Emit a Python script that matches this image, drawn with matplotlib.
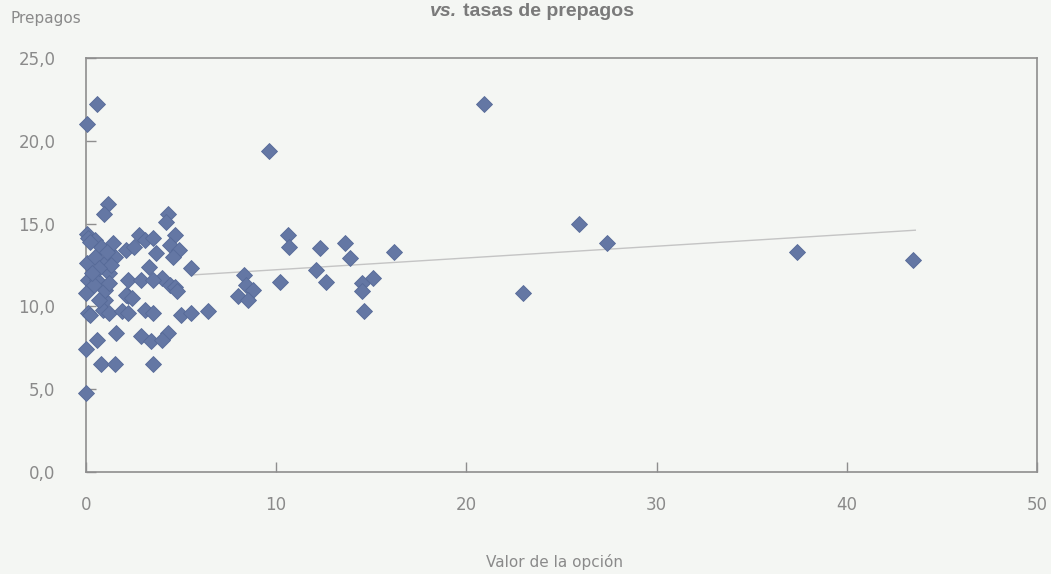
import matplotlib.pyplot as plt
from matplotlib.ticker import FuncFormatter

# option value (x) vs prepayment rate (y)
opcion = [
    0.05, 0.6, 1.15, 0.95, 4.3, 4.2,
    0.05, 0.1, 0.5, 0.8, 0.2,
    2.8, 3.1, 2.1, 2.5, 3.3,
    0.05, 1.0, 1.2, 0.1, 0.6, 2.2, 2.9,
    0.0, 1.0, 2.2, 0.5, 1.5,
    4.7, 3.5, 4.4, 4.9, 4.6, 3.7, 5.5, 4.0, 4.4, 4.7, 3.5,
    0.1, 0.9, 1.2, 1.9, 2.2, 3.1,
    0.6, 1.6, 2.9, 3.4, 0.0, 0.8, 1.5, 3.5, 0.0,
    3.5, 5.0, 5.5, 6.4, 4.3, 4.0,
    2.1, 2.4, 4.8,
    0.4, 0.7, 0.2, 1.0, 1.3, 1.4, 0.7, 1.2, 1.1, 0.3,
    8.3, 8.4, 8.8, 8.0, 8.5,
    9.6, 10.2, 10.6, 10.7, 12.3, 12.1, 12.6,
    13.6, 13.9, 14.5, 15.1, 14.5, 14.6, 16.2,
    20.9, 23.0, 25.9, 27.4, 37.4, 43.5,
]
prepagos = [
    21.0, 22.2, 16.2, 15.6, 15.6, 15.1,
    14.4, 14.1, 14.0, 13.6, 13.9,
    14.3, 14.0, 13.4, 13.6, 12.4,
    12.6, 12.6, 12.0, 11.6, 11.6, 11.6, 11.6,
    10.8, 10.4, 10.6, 13.0, 13.0,
    14.3, 14.1, 13.7, 13.4, 13.0, 13.2, 12.3, 11.7, 11.3, 11.2, 11.6,
    9.6, 9.8, 9.6, 9.7, 9.6, 9.8,
    8.0, 8.4, 8.2, 7.9, 7.4, 6.5, 6.5, 6.5, 4.8,
    9.6, 9.5, 9.6, 9.7, 8.4, 8.0,
    10.7, 10.5, 10.9,
    11.3, 10.4, 9.5, 11.0, 12.5, 13.8, 12.3, 11.4, 13.3, 12.0,
    11.9, 11.3, 11.0, 10.6, 10.4,
    19.4, 11.5, 14.3, 13.6, 13.5, 12.2, 11.5,
    13.8, 12.9, 11.4, 11.7, 10.9, 9.7, 13.3,
    22.2, 10.8, 15.0, 13.8, 13.3, 12.8,
]

# fitted trend line end points
trend_x = [5.6, 43.6]
trend_y = [11.9, 14.6]

x_ticks = [0, 10, 20, 30, 40, 50]
y_ticks = [0, 5, 10, 15, 20, 25]

bg = '#f4f6f3'
grey = '#8e8e8e'
plt.rcParams['font.family'] = ['Liberation Sans Narrow', 'DejaVu Sans']

fig = plt.figure(figsize=(10.51, 5.74), dpi=100, facecolor=bg)
ax = fig.add_axes([0.0818, 0.1777, 0.9049, 0.7213], facecolor=bg)

ax.plot(trend_x, trend_y, color='#c4c4c4', lw=1.0, zorder=1)
ax.plot(opcion, prepagos, linestyle='none', marker='D', markersize=8.5,
        color='#6477a4', markeredgecolor='#566a98', markeredgewidth=0.6,
        zorder=3, clip_on=False)

ax.set_xlim(0, 50)
ax.set_ylim(0, 25)
ax.set_xticks(x_ticks)
ax.set_yticks(y_ticks)
ax.yaxis.set_major_formatter(FuncFormatter(lambda v, p: f'{v:.1f}'.replace('.', ',')))

for s in ax.spines.values():
    s.set_color(grey)
    s.set_linewidth(1.2)
ax.tick_params(axis='both', direction='in', length=7, width=1.0, color=grey,
               labelcolor='#8a8a8a', labelsize=12)
ax.tick_params(axis='x', pad=17)
ax.tick_params(axis='y', pad=22)

fig.text(10 / 1051, 1 - 18 / 574, 'Prepagos', ha='left', va='center',
         color='#8a8a8a', fontsize=11)
fig.text(555 / 1051, 1 - 562 / 574, 'Valor de la opción', ha='center', va='center',
         color='#8a8a8a', fontsize=11)

# title (partly cut off in the source, kept fully visible here)
fig.text(457 / 1051, 1 - 16 / 574, 'vs.', ha='right', va='baseline',
         fontsize=14, fontweight='bold', style='italic', color='#7a7a7a',
         family='Liberation Sans')
fig.text(463 / 1051, 1 - 16 / 574, 'tasas de prepagos', ha='left', va='baseline',
         fontsize=14, fontweight='bold', color='#7a7a7a', family='Liberation Sans')

fig.savefig('out.png', dpi=100, facecolor=bg)
